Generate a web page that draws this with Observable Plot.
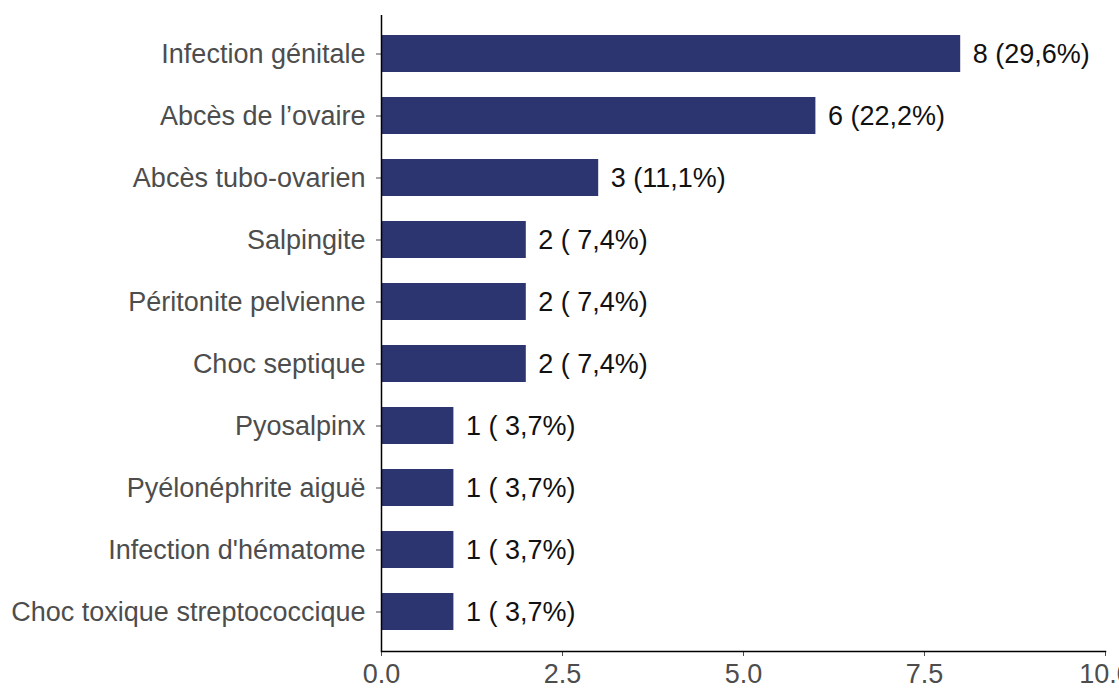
<!DOCTYPE html>
<html>
<head>
<meta charset="utf-8">
<script src="https://cdn.jsdelivr.net/npm/d3@7"></script>
<script src="https://cdn.jsdelivr.net/npm/@observablehq/plot@0.6"></script>
<style>
  html, body { margin: 0; padding: 0; background: #fff; }
  svg { display: block; }
</style>
</head>
<body>
<div id="chart"></div>
<script>
const categories = [
  "Infection génitale",
  "Abcès de l’ovaire",
  "Abcès tubo-ovarien",
  "Salpingite",
  "Péritonite pelvienne",
  "Choc septique",
  "Pyosalpinx",
  "Pyélonéphrite aiguë",
  "Infection d'hématome",
  "Choc toxique streptococcique"
];
const counts = [8, 6, 3, 2, 2, 2, 1, 1, 1, 1];
const valueLabels = [
  "8 (29,6%)", "6 (22,2%)", "3 (11,1%)", "2 ( 7,4%)", "2 ( 7,4%)",
  "2 ( 7,4%)", "1 ( 3,7%)", "1 ( 3,7%)", "1 ( 3,7%)", "1 ( 3,7%)"
];
const xTicks = [0, 2.5, 5, 7.5, 10];

const data = categories.map((c, i) => ({category: c, count: counts[i], label: valueLabels[i]}));

const chart = Plot.plot({
  width: 1119,
  height: 689,
  marginLeft: 381,
  marginRight: 14,
  marginTop: 15,
  marginBottom: 38,
  style: {fontSize: "27px", fontFamily: "'Liberation Sans', Arial, sans-serif", color: "#4d4d4d", background: "#fff"},
  x: {domain: [0, 10], ticks: xTicks, tickFormat: d => d.toFixed(1), label: null, tickSize: 5, tickPadding: 7},
  y: {domain: categories, paddingInner: 0.4, paddingOuter: 0.3, label: null, tickSize: 5, tickPadding: 11},
  marks: [
    Plot.barX(data, {x: "count", y: "category", fill: "#2d3570"}),
    Plot.text(data, {x: "count", y: "category", text: "label", textAnchor: "start", dx: 12, fill: "#111", fontSize: 27}),
    Plot.frame({anchor: "bottom", stroke: "#000", strokeWidth: 1.5}),
    Plot.ruleX([0], {stroke: "#000", strokeWidth: 1.5})
  ]
});
document.getElementById("chart").appendChild(chart);
</script>
</body>
</html>
